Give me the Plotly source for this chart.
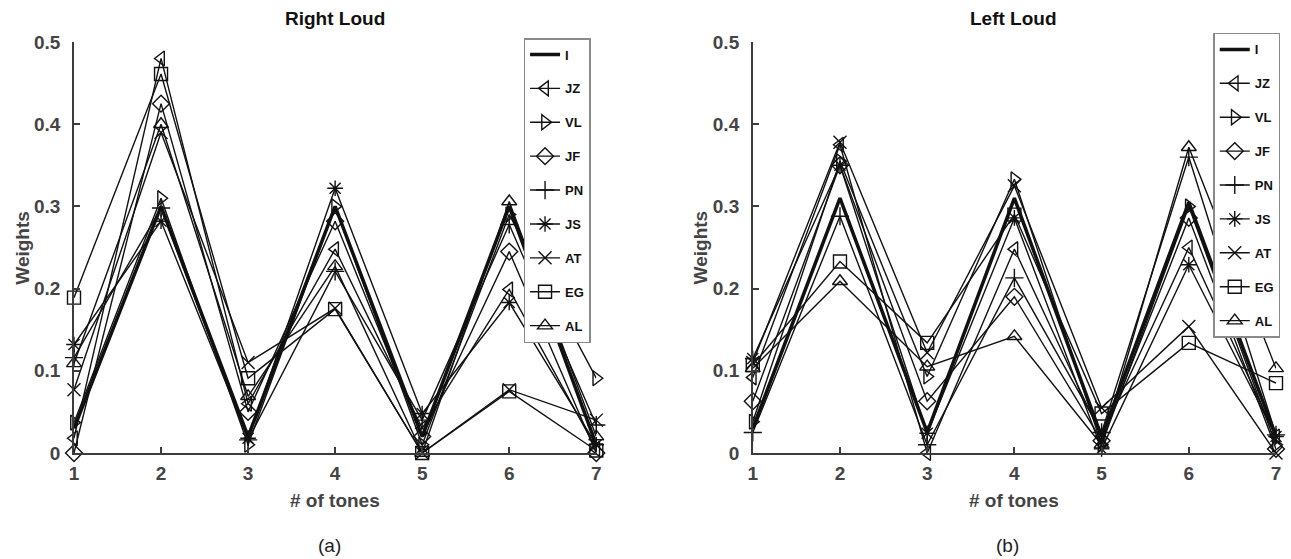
import plotly.graph_objects as go

tones = [1, 2, 3, 4, 5, 6, 7]
subjects = ["I", "JZ", "VL", "JF", "PN", "JS", "AT", "EG", "AL"]

# Panel (a): Right Loud
right_I  = [0.030, 0.300, 0.020, 0.300, 0.020, 0.300, 0.010]
right_JZ = [0.018, 0.480, 0.060, 0.248, 0.030, 0.199, 0.005]
right_VL = [0.037, 0.310, 0.010, 0.300, 0.010, 0.290, 0.091]
right_JF = [0.000, 0.425, 0.050, 0.282, 0.020, 0.245, 0.000]
right_PN = [0.116, 0.298, 0.016, 0.221, 0.040, 0.278, 0.034]
right_JS = [0.132, 0.282, 0.018, 0.322, 0.048, 0.183, 0.010]
right_AT = [0.077, 0.390, 0.110, 0.176, 0.000, 0.077, 0.040]
right_EG = [0.189, 0.461, 0.091, 0.175, 0.000, 0.075, 0.003]
right_AL = [0.109, 0.400, 0.069, 0.227, 0.000, 0.306, 0.020]

# Panel (b): Left Loud
left_I  = [0.030, 0.310, 0.025, 0.310, 0.020, 0.305, 0.020]
left_JZ = [0.092, 0.375, 0.000, 0.248, 0.020, 0.250, 0.020]
left_VL = [0.038, 0.355, 0.093, 0.333, 0.010, 0.300, 0.010]
left_JF = [0.063, 0.350, 0.063, 0.190, 0.015, 0.286, 0.005]
left_PN = [0.025, 0.288, 0.010, 0.213, 0.025, 0.360, 0.022]
left_JS = [0.115, 0.350, 0.024, 0.286, 0.005, 0.229, 0.020]
left_AT = [0.110, 0.378, 0.122, 0.325, 0.055, 0.154, 0.000]
left_EG = [0.107, 0.233, 0.134, 0.290, 0.048, 0.134, 0.085]
left_AL = [0.103, 0.209, 0.105, 0.142, 0.010, 0.372, 0.103]

right_data = [right_I, right_JZ, right_VL, right_JF, right_PN, right_JS, right_AT, right_EG, right_AL]
left_data = [left_I, left_JZ, left_VL, left_JF, left_PN, left_JS, left_AT, left_EG, left_AL]

symbols = [None, "triangle-left-open", "triangle-right-open", "diamond-open",
           "cross-thin-open", "asterisk-open", "x-thin-open", "square-open", "triangle-up-open"]

y_ticks = [0, 0.1, 0.2, 0.3, 0.4, 0.5]
y_ticklabels = ["0", "0.1", "0.2", "0.3", "0.4", "0.5"]

FONT = "Liberation Sans, Arial, sans-serif"
INK = "#111111"
AXC = "#3c3c3c"

fig = go.Figure()

for panel, data, xa, ya, leg in [(0, right_data, "x", "y", "legend"), (1, left_data, "x2", "y2", "legend2")]:
    for i, (name, vals) in enumerate(zip(subjects, data)):
        sym = symbols[i]
        if sym is None:
            fig.add_trace(go.Scatter(
                x=tones, y=vals, name=name, mode="lines",
                line=dict(color=INK, width=3.5),
                xaxis=xa, yaxis=ya, legend=leg, legendgroup=f"{panel}{name}",
                cliponaxis=False,
            ))
        else:
            fig.add_trace(go.Scatter(
                x=tones, y=vals, name=name, mode="lines+markers",
                line=dict(color=INK, width=1.4),
                marker=dict(symbol=sym, size=13, color=INK,
                            line=dict(color=INK, width=1.4)),
                xaxis=xa, yaxis=ya, legend=leg, legendgroup=f"{panel}{name}",
                cliponaxis=False,
            ))

axis_common = dict(
    showline=True, linecolor=AXC, linewidth=1.5, mirror=False,
    showgrid=False, zeroline=False,
    ticks="inside", ticklen=6, tickwidth=1.5, tickcolor=AXC,
    tickfont=dict(family=FONT, size=19, color="#444444", weight="bold"),
)

legend_common = dict(
    bgcolor="white", bordercolor="#8a8a8a", borderwidth=1.5,
    font=dict(family=FONT, size=13, color=INK, weight="bold"),
    xanchor="left", yanchor="top", tracegroupgap=14,
    itemwidth=30, maxheight=420,
)

fig.update_layout(
    width=1291, height=559,
    margin=dict(l=74, r=11, t=42, b=106),
    paper_bgcolor="white", plot_bgcolor="white",
    showlegend=True,
    xaxis=dict(domain=[0, 0.4345], range=[1, 7], tickvals=tones, anchor="y",
               ticklabelstandoff=2, **axis_common),
    yaxis=dict(domain=[0, 1], range=[0, 0.5], tickvals=y_ticks, ticktext=y_ticklabels, anchor="x",
               ticklabelstandoff=8, **axis_common),
    xaxis2=dict(domain=[0.5647, 1], range=[1, 7], tickvals=tones, anchor="y2",
                ticklabelstandoff=2, **axis_common),
    yaxis2=dict(domain=[0, 1], range=[0, 0.5], tickvals=y_ticks, ticktext=y_ticklabels, anchor="x2",
                ticklabelstandoff=8, **axis_common),
    legend=dict(x=0.374, y=1.0097, **legend_common),
    legend2=dict(x=0.9478, y=1.022, **legend_common),
)

ann = []
for xc, title, lab in [(336, "Right Loud", "(a)"), (1017, "Left Loud", "(b)")]:
    xp = (xc - 74) / 1206
    ann.append(dict(x=xp, y=(453 - 18) / 411, xref="paper", yref="paper", text=title,
                    showarrow=False, xanchor="center", yanchor="middle",
                    font=dict(family=FONT, size=19, color=INK, weight="bold")))
    ann.append(dict(x=xp, y=(453 - 500) / 411, xref="paper", yref="paper", text="# of tones",
                    showarrow=False, xanchor="center", yanchor="middle",
                    font=dict(family=FONT, size=19, color="#444444", weight="bold")))
    ann.append(dict(x=(xc - 6 - 74) / 1206, y=(453 - 545) / 411, xref="paper", yref="paper", text=lab,
                    showarrow=False, xanchor="center", yanchor="middle",
                    font=dict(family=FONT, size=19, color="#222222")))
for xc in [22, 703]:
    ann.append(dict(x=(xc - 74) / 1206, y=0.5, xref="paper", yref="paper", text="Weights",
                    showarrow=False, xanchor="center", yanchor="middle", textangle=-90,
                    font=dict(family=FONT, size=19, color="#444444", weight="bold")))
fig.update_layout(annotations=ann)

fig.write_html("out.html")
